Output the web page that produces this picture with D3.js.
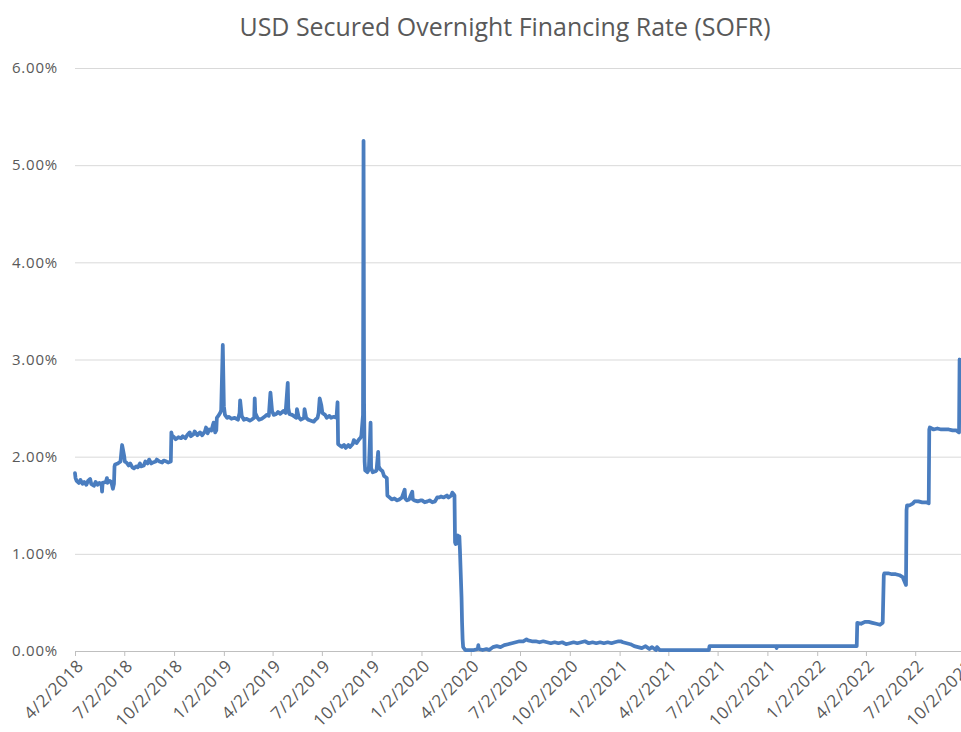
<!DOCTYPE html>
<html>
<head>
<meta charset="utf-8">
<script src="https://cdn.jsdelivr.net/npm/d3@7"></script>
<style>
  body { margin: 0; background: #fff; }
  text { font-family: "Open Sans", sans-serif; fill: #595959; }
</style>
</head>
<body>
<div id="chart"></div>
<script>
const chartTitle = "USD Secured Overnight Financing Rate (SOFR)";

const yTicks = [0, 1, 2, 3, 4, 5, 6];

const xTickLabels = [
  "4/2/2018", "7/2/2018", "10/2/2018", "1/2/2019", "4/2/2019", "7/2/2019",
  "10/2/2019", "1/2/2020", "4/2/2020", "7/2/2020", "10/2/2020", "1/2/2021",
  "4/2/2021", "7/2/2021", "10/2/2021", "1/2/2022", "4/2/2022", "7/2/2022",
  "10/2/2022"
];

// SOFR in percent
const sofr2018 = [
  ["2018-04-02", 1.83], ["2018-04-03", 1.78], ["2018-04-05", 1.75], ["2018-04-09", 1.73],
  ["2018-04-12", 1.76], ["2018-04-16", 1.72], ["2018-04-19", 1.74], ["2018-04-23", 1.71],
  ["2018-04-26", 1.75], ["2018-04-30", 1.77], ["2018-05-02", 1.72], ["2018-05-07", 1.70],
  ["2018-05-10", 1.74], ["2018-05-14", 1.71], ["2018-05-17", 1.73], ["2018-05-21", 1.72],
  ["2018-05-22", 1.64], ["2018-05-23", 1.73], ["2018-05-29", 1.74], ["2018-05-31", 1.78],
  ["2018-06-01", 1.73], ["2018-06-05", 1.75], ["2018-06-08", 1.74], ["2018-06-11", 1.67],
  ["2018-06-13", 1.72], ["2018-06-14", 1.90], ["2018-06-15", 1.92], ["2018-06-20", 1.93],
  ["2018-06-25", 1.95], ["2018-06-28", 2.12], ["2018-06-29", 2.09], ["2018-07-02", 2.00],
  ["2018-07-03", 1.95], ["2018-07-06", 1.94], ["2018-07-10", 1.91], ["2018-07-13", 1.93],
  ["2018-07-17", 1.89], ["2018-07-20", 1.88], ["2018-07-24", 1.90], ["2018-07-27", 1.89],
  ["2018-07-31", 1.93], ["2018-08-02", 1.90], ["2018-08-07", 1.91], ["2018-08-10", 1.95],
  ["2018-08-14", 1.93], ["2018-08-17", 1.97], ["2018-08-21", 1.93], ["2018-08-24", 1.94],
  ["2018-08-29", 1.95], ["2018-08-31", 1.97], ["2018-09-05", 1.95], ["2018-09-10", 1.94],
  ["2018-09-13", 1.96], ["2018-09-18", 1.95], ["2018-09-21", 1.94], ["2018-09-26", 1.95],
  ["2018-09-27", 2.25], ["2018-09-28", 2.22], ["2018-10-02", 2.20], ["2018-10-05", 2.18],
  ["2018-10-10", 2.20], ["2018-10-15", 2.19], ["2018-10-18", 2.21], ["2018-10-23", 2.19],
  ["2018-10-26", 2.22], ["2018-10-31", 2.25], ["2018-11-02", 2.21], ["2018-11-07", 2.23],
  ["2018-11-09", 2.26], ["2018-11-14", 2.22], ["2018-11-19", 2.25], ["2018-11-23", 2.22],
  ["2018-11-28", 2.26], ["2018-11-30", 2.30], ["2018-12-03", 2.24], ["2018-12-06", 2.28],
  ["2018-12-10", 2.27], ["2018-12-13", 2.33], ["2018-12-14", 2.35], ["2018-12-17", 2.25],
  ["2018-12-19", 2.27], ["2018-12-20", 2.40], ["2018-12-24", 2.43], ["2018-12-27", 2.46],
  ["2018-12-28", 2.48], ["2018-12-31", 3.15]
];

const sofr2019 = [
  ["2019-01-02", 2.52], ["2019-01-04", 2.43], ["2019-01-08", 2.40], ["2019-01-11", 2.41],
  ["2019-01-16", 2.39], ["2019-01-22", 2.40], ["2019-01-28", 2.38], ["2019-01-31", 2.45],
  ["2019-02-01", 2.58], ["2019-02-04", 2.42], ["2019-02-08", 2.38], ["2019-02-13", 2.39],
  ["2019-02-19", 2.37], ["2019-02-22", 2.38], ["2019-02-27", 2.40], ["2019-02-28", 2.60],
  ["2019-03-01", 2.45], ["2019-03-05", 2.40], ["2019-03-08", 2.38], ["2019-03-13", 2.39],
  ["2019-03-18", 2.41], ["2019-03-22", 2.43], ["2019-03-26", 2.42], ["2019-03-29", 2.66],
  ["2019-04-01", 2.47], ["2019-04-04", 2.43], ["2019-04-09", 2.44], ["2019-04-12", 2.46],
  ["2019-04-16", 2.44], ["2019-04-22", 2.47], ["2019-04-26", 2.45], ["2019-04-30", 2.76],
  ["2019-05-01", 2.50], ["2019-05-03", 2.44], ["2019-05-08", 2.43], ["2019-05-13", 2.41],
  ["2019-05-16", 2.40], ["2019-05-17", 2.49], ["2019-05-20", 2.41], ["2019-05-24", 2.38],
  ["2019-05-30", 2.40], ["2019-05-31", 2.49], ["2019-06-03", 2.40], ["2019-06-07", 2.38],
  ["2019-06-12", 2.37], ["2019-06-17", 2.36], ["2019-06-20", 2.38], ["2019-06-24", 2.40],
  ["2019-06-26", 2.45], ["2019-06-28", 2.60], ["2019-07-01", 2.53], ["2019-07-03", 2.45],
  ["2019-07-08", 2.43], ["2019-07-11", 2.40], ["2019-07-16", 2.42], ["2019-07-19", 2.40],
  ["2019-07-24", 2.41], ["2019-07-29", 2.40], ["2019-07-31", 2.56], ["2019-08-01", 2.13],
  ["2019-08-05", 2.11], ["2019-08-08", 2.10], ["2019-08-12", 2.12], ["2019-08-15", 2.09],
  ["2019-08-20", 2.12], ["2019-08-23", 2.10], ["2019-08-28", 2.13], ["2019-08-30", 2.17],
  ["2019-09-04", 2.14], ["2019-09-09", 2.18], ["2019-09-12", 2.20], ["2019-09-13", 2.22],
  ["2019-09-16", 2.43], ["2019-09-17", 5.25], ["2019-09-18", 2.55], ["2019-09-19", 1.95],
  ["2019-09-20", 1.86], ["2019-09-24", 1.84], ["2019-09-26", 1.86], ["2019-09-27", 1.90],
  ["2019-09-30", 2.35], ["2019-10-01", 1.88], ["2019-10-04", 1.84], ["2019-10-09", 1.85],
  ["2019-10-11", 1.86], ["2019-10-14", 2.05], ["2019-10-15", 1.90], ["2019-10-18", 1.87],
  ["2019-10-22", 1.85], ["2019-10-25", 1.80], ["2019-10-30", 1.78], ["2019-10-31", 1.60],
  ["2019-11-04", 1.58], ["2019-11-08", 1.56], ["2019-11-13", 1.57], ["2019-11-18", 1.55],
  ["2019-11-22", 1.56], ["2019-11-27", 1.58], ["2019-12-02", 1.66], ["2019-12-03", 1.57],
  ["2019-12-06", 1.55], ["2019-12-10", 1.56], ["2019-12-13", 1.60], ["2019-12-16", 1.64],
  ["2019-12-17", 1.56], ["2019-12-20", 1.55], ["2019-12-26", 1.54], ["2019-12-31", 1.55]
];

const sofr2020 = [
  ["2020-01-03", 1.55], ["2020-01-08", 1.53], ["2020-01-13", 1.54], ["2020-01-17", 1.55],
  ["2020-01-22", 1.53], ["2020-01-27", 1.54], ["2020-01-31", 1.58], ["2020-02-04", 1.58],
  ["2020-02-07", 1.59], ["2020-02-12", 1.58], ["2020-02-18", 1.60], ["2020-02-21", 1.58],
  ["2020-02-26", 1.60], ["2020-02-28", 1.63], ["2020-03-02", 1.61], ["2020-03-03", 1.60],
  ["2020-03-04", 1.12], ["2020-03-05", 1.10], ["2020-03-06", 1.17], ["2020-03-09", 1.19],
  ["2020-03-11", 1.10], ["2020-03-12", 1.18], ["2020-03-13", 1.05], ["2020-03-16", 0.55],
  ["2020-03-17", 0.29], ["2020-03-18", 0.12], ["2020-03-19", 0.04], ["2020-03-23", 0.01],
  ["2020-03-31", 0.01], ["2020-04-08", 0.01], ["2020-04-15", 0.02], ["2020-04-16", 0.06],
  ["2020-04-17", 0.02], ["2020-04-24", 0.01], ["2020-05-01", 0.02], ["2020-05-06", 0.01],
  ["2020-05-13", 0.04], ["2020-05-20", 0.05], ["2020-05-27", 0.04], ["2020-06-03", 0.06],
  ["2020-06-10", 0.07], ["2020-06-17", 0.08], ["2020-06-24", 0.09], ["2020-07-01", 0.10],
  ["2020-07-08", 0.10], ["2020-07-14", 0.12], ["2020-07-17", 0.11], ["2020-07-24", 0.10],
  ["2020-07-31", 0.10], ["2020-08-07", 0.09], ["2020-08-14", 0.10], ["2020-08-21", 0.09],
  ["2020-08-28", 0.08], ["2020-09-04", 0.09], ["2020-09-11", 0.08], ["2020-09-18", 0.09],
  ["2020-09-25", 0.07], ["2020-10-02", 0.08], ["2020-10-09", 0.09], ["2020-10-16", 0.08],
  ["2020-10-23", 0.09], ["2020-10-30", 0.10], ["2020-11-06", 0.08], ["2020-11-13", 0.09],
  ["2020-11-20", 0.08], ["2020-11-27", 0.09], ["2020-12-04", 0.08], ["2020-12-11", 0.09],
  ["2020-12-18", 0.08], ["2020-12-24", 0.09], ["2020-12-31", 0.10]
];

const sofr2021 = [
  ["2021-01-04", 0.10], ["2021-01-08", 0.09], ["2021-01-15", 0.08], ["2021-01-22", 0.07],
  ["2021-01-29", 0.05], ["2021-02-05", 0.04], ["2021-02-12", 0.03], ["2021-02-19", 0.05],
  ["2021-02-26", 0.02], ["2021-03-03", 0.04], ["2021-03-10", 0.01], ["2021-03-12", 0.04],
  ["2021-03-17", 0.01], ["2021-04-01", 0.01], ["2021-05-03", 0.01], ["2021-06-01", 0.01],
  ["2021-06-16", 0.01], ["2021-06-17", 0.05], ["2021-07-01", 0.05], ["2021-08-02", 0.05],
  ["2021-09-01", 0.05], ["2021-10-18", 0.05], ["2021-10-19", 0.03], ["2021-10-20", 0.05],
  ["2021-12-01", 0.05], ["2021-12-31", 0.05]
];

const sofr2022 = [
  ["2022-01-03", 0.05], ["2022-02-01", 0.05], ["2022-03-01", 0.05], ["2022-03-16", 0.05],
  ["2022-03-17", 0.29], ["2022-03-24", 0.28], ["2022-03-31", 0.30], ["2022-04-07", 0.30],
  ["2022-04-14", 0.29], ["2022-04-21", 0.28], ["2022-04-28", 0.27], ["2022-05-03", 0.29],
  ["2022-05-05", 0.78], ["2022-05-06", 0.80], ["2022-05-13", 0.80], ["2022-05-20", 0.79],
  ["2022-05-27", 0.79], ["2022-06-03", 0.78], ["2022-06-09", 0.76], ["2022-06-15", 0.68],
  ["2022-06-16", 1.45], ["2022-06-17", 1.50], ["2022-06-22", 1.50], ["2022-06-28", 1.52],
  ["2022-07-01", 1.54], ["2022-07-08", 1.54], ["2022-07-15", 1.53], ["2022-07-22", 1.53],
  ["2022-07-27", 1.52], ["2022-07-28", 2.28], ["2022-07-29", 2.30], ["2022-08-05", 2.28],
  ["2022-08-12", 2.29], ["2022-08-19", 2.28], ["2022-08-26", 2.28], ["2022-09-02", 2.28],
  ["2022-09-09", 2.27], ["2022-09-16", 2.27], ["2022-09-21", 2.25], ["2022-09-22", 3.00]
];

const width = 961;
const height = 732;
const margin = { top: 68, left: 75, bottom: 81 };
const plotRight = 965; // the plot runs past the cropped edge

const parseDay = d3.timeParse("%Y-%m-%d");
const parseTick = d3.timeParse("%m/%d/%Y");
const formatTick = d3.timeFormat("%-m/%-d/%Y");

const series = [...sofr2018, ...sofr2019, ...sofr2020, ...sofr2021, ...sofr2022]
  .map(([d, v]) => ({ date: parseDay(d), value: v }));
const xTickDates = xTickLabels.map(parseTick);

const svg = d3
  .select("#chart")
  .append("svg")
  .attr("width", width)
  .attr("height", height)
  .style("display", "block");

const x = d3
  .scaleTime()
  .domain([xTickDates[0], xTickDates[xTickDates.length - 1]])
  .range([margin.left, plotRight]);

const y = d3
  .scaleLinear()
  .domain([0, 6])
  .range([height - margin.bottom, margin.top]);

// Title
svg
  .append("text")
  .attr("x", 505)
  .attr("y", 36)
  .attr("text-anchor", "middle")
  .attr("textLength", 531)
  .attr("lengthAdjust", "spacingAndGlyphs")
  .style("font-size", "26px")
  .text(chartTitle);

// Gridlines
const grid = svg
  .append("g")
  .attr("transform", `translate(${margin.left},0)`)
  .call(d3.axisLeft(y).tickValues(yTicks).tickSize(-(width - margin.left)).tickFormat(""));
grid.select(".domain").remove();
grid.selectAll("line").attr("stroke", "#d9d9d9");

// Y labels
const yAxis = svg
  .append("g")
  .attr("transform", `translate(${margin.left},0)`)
  .call(
    d3.axisLeft(y)
      .tickValues(yTicks)
      .tickSize(0)
      .tickPadding(17)
      .tickFormat((d) => d3.format(".2f")(d) + "%")
  );
yAxis.select(".domain").remove();
yAxis.selectAll("text")
  .style("font-size", "15px")
  .style("letter-spacing", "0.8px")
  .style("font-family", '"Open Sans", sans-serif')
  .attr("fill", "#595959");

// X axis
const xAxis = svg
  .append("g")
  .attr("transform", `translate(0,${height - margin.bottom})`)
  .call(
    d3.axisBottom(x)
      .tickValues(xTickDates)
      .tickSize(5)
      .tickSizeOuter(0)
      .tickFormat(formatTick)
  );
xAxis.select(".domain").attr("stroke", "#bfbfbf");
xAxis.selectAll(".tick line").attr("stroke", "#bfbfbf");
xAxis.selectAll("text")
  .attr("x", 0)
  .attr("y", 0)
  .attr("dy", 0)
  .attr("transform", "translate(9,16) rotate(-45)")
  .style("text-anchor", "end")
  .style("font-size", "17px")
  .style("letter-spacing", "0.6px")
  .style("font-family", '"Open Sans", sans-serif')
  .attr("fill", "#595959");

// SOFR line
const line = d3
  .line()
  .x((d) => x(d.date))
  .y((d) => y(d.value));

svg
  .append("path")
  .datum(series)
  .attr("fill", "none")
  .attr("stroke", "#4a7dbf")
  .attr("stroke-width", 3.75)
  .attr("stroke-linejoin", "round")
  .attr("stroke-linecap", "round")
  .attr("d", line);
</script>
</body>
</html>
